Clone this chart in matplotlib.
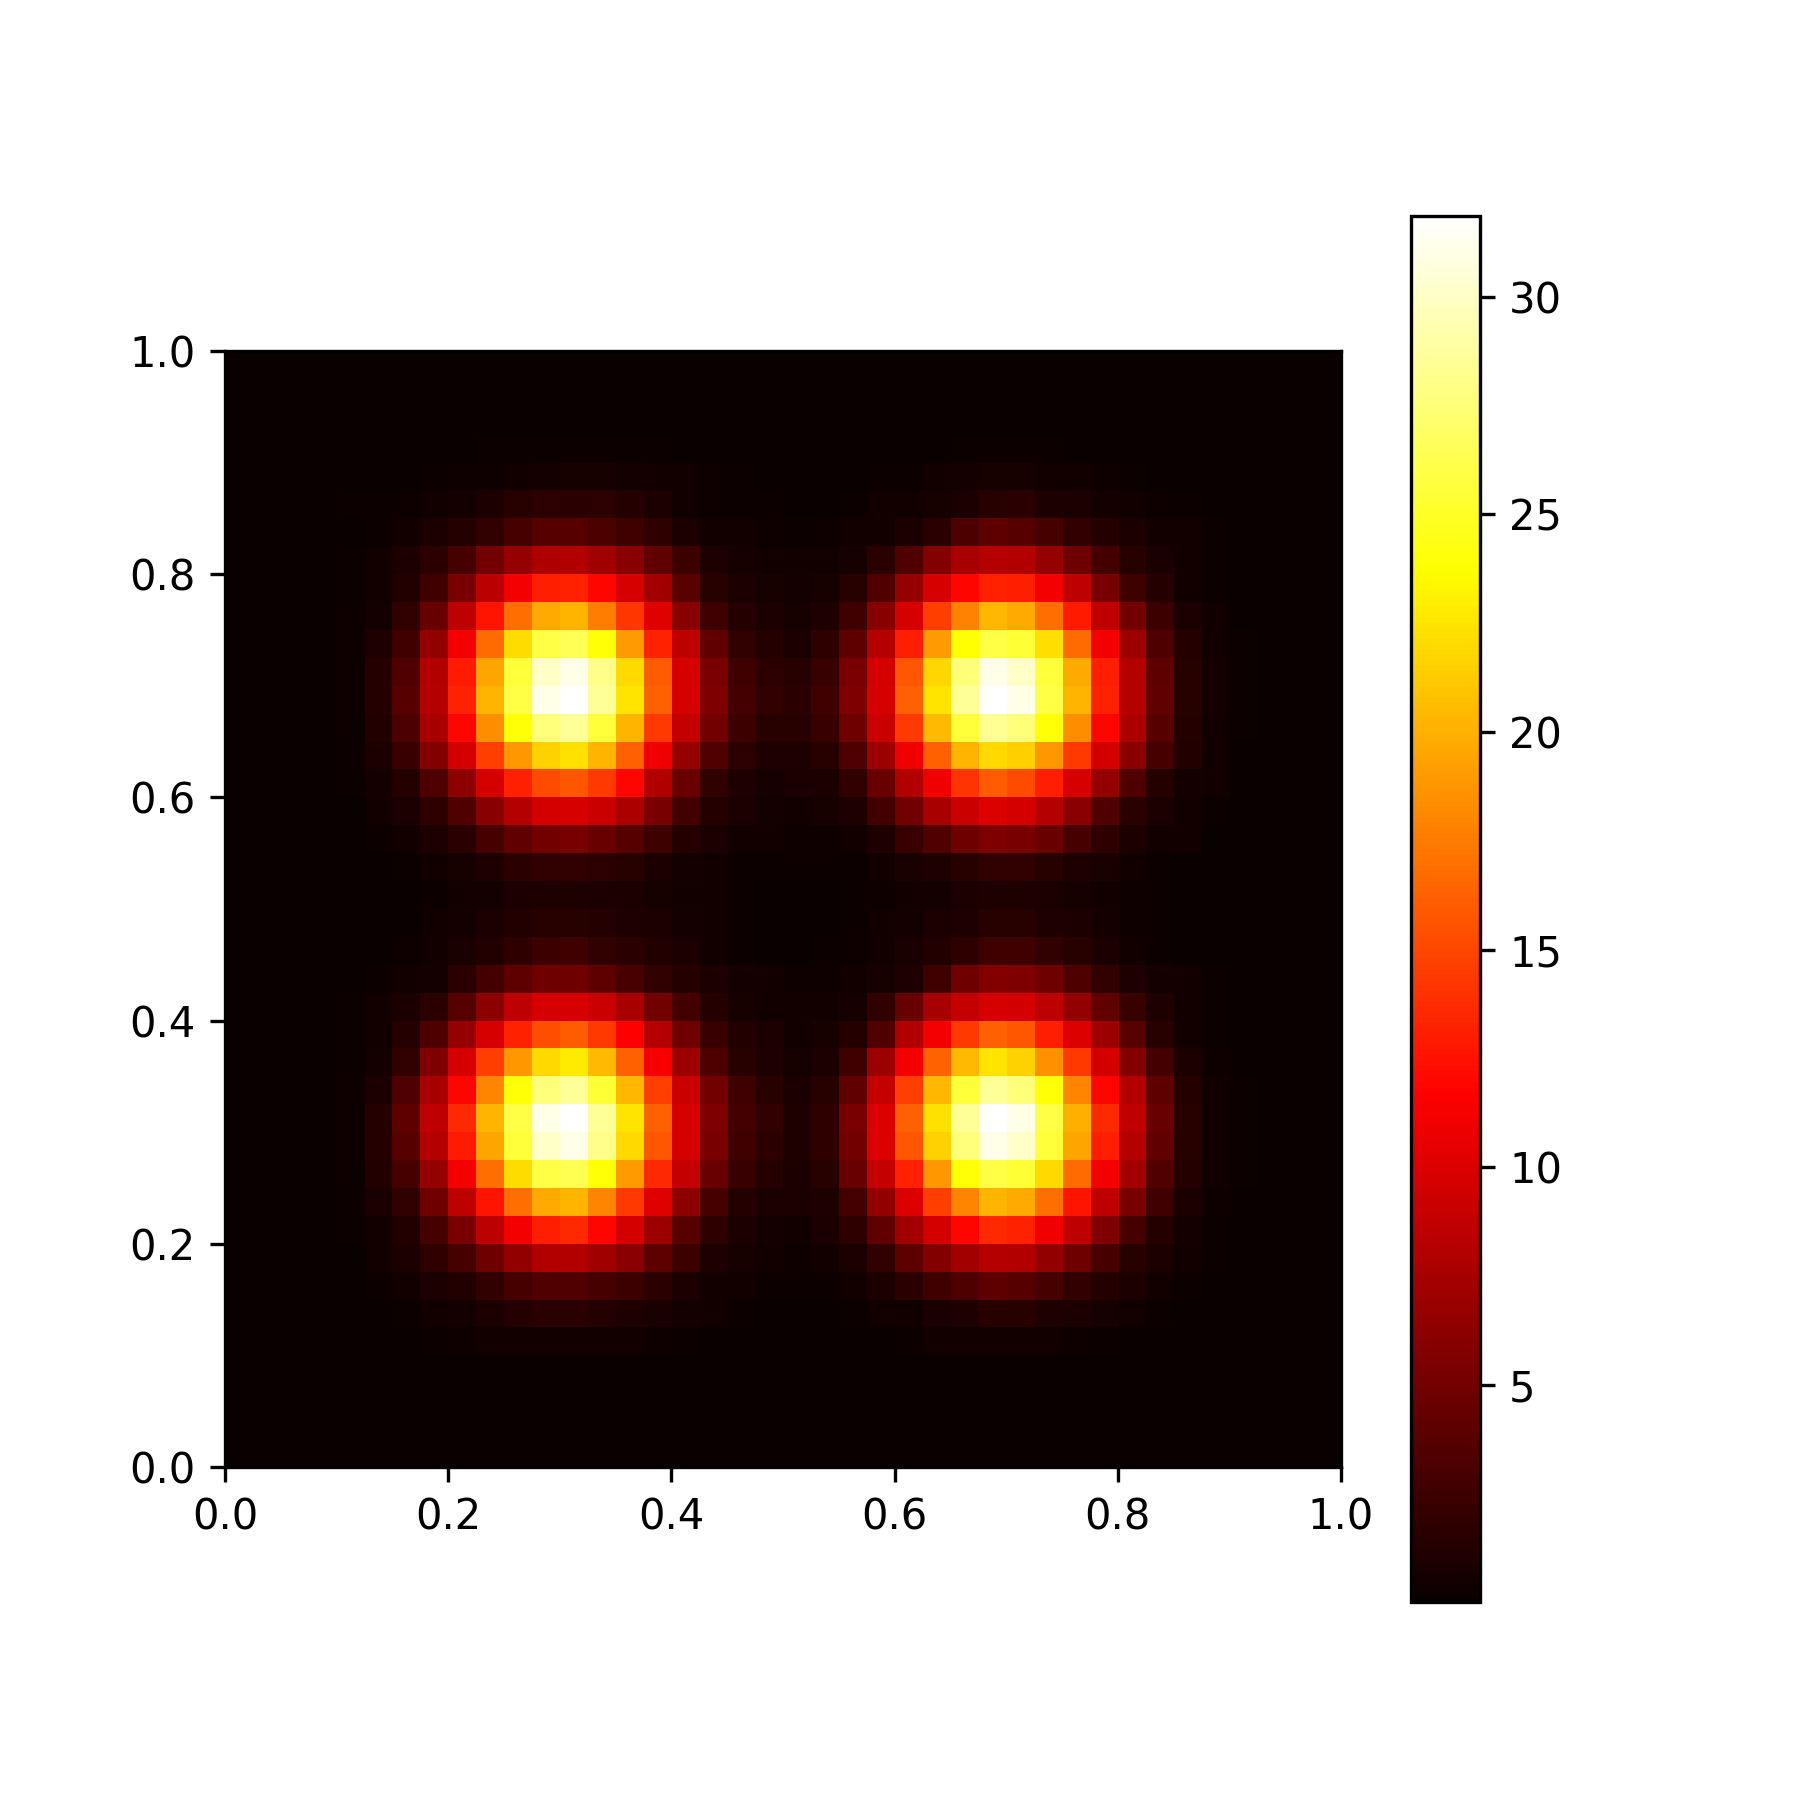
import matplotlib
matplotlib.use("Agg")
import matplotlib.pyplot as plt

cbar_ticks = [5, 10, 15, 20, 25, 30]
axis_ticks = [0.0, 0.2, 0.4, 0.6, 0.8, 1.0]
color_min = 0.02
color_max = 31.85

# density values per cell, listed from the top row of the picture to the bottom
values = [
    [.1]*40,
    [.1]*40,
    [.1]*40,
    [.1,.1,.1,.1, .1,.1,.1,.1,.1,.2,.2,.2,.2,.2,.2,.2,.1,.1,.1,.1, .1,.1,.1,.1,.1,.1,.2,.2,.2,.2,.1,.1,.1,.1,.1,.1,.1,.1,.1,.1],
    [.1,.1,.1,.1, .1,.1,.1,.2,.3,.3,.4,.6,.7,.7,.6,.5,.4,.3,.2,.1, .1,.1,.1,.2,.2,.4,.6,.7,.7,.5,.4,.3,.2,.1,.1,.1,.1,.1,.1,.1],
    [.1,.1,.1,.1, .2,.2,.3,.5,.6,1.0,1.5,1.7,1.6,1.7,1.3,1.0,.4,.3,.2,.2, .1,.1,.2,.4,.5,.7,1.0,1.5,1.6,1.0,.8,.6,.5,.3,.2,.1,.1,.1,.1,.1],
    [.1,.1,.1,.1, .1,.2,.5,.9,1.3,2.0,3.0,3.7,3.7,3.2,2.6,1.8,.9,.5,.4,.3, .2,.3,.4,.5,1.0,1.6,3.2,4.0,3.7,3.0,2.0,1.3,1.0,.5,.4,.2,.1,.1,.1,.1],
    [.1,.1,.1,.1, .2,.4,.9,1.7,3.0,5.0,6.7,7.9,8.0,7.2,6.0,4.2,2.4,1.1,.7,.5, .4,.4,.7,1.6,3.5,5.8,7.5,8.2,8.0,6.7,4.8,2.8,1.5,.8,.4,.2,.1,.1,.1,.1],
    [.1,.1,.1,.1, .2,.5,1.2,2.7,5.3,8.4,11.2,13.1,13.3,11.9,9.8,7.3,3.8,1.5,.9,.7, .6,.7,1.5,3.5,6.7,9.8,11.9,13.3,13.1,11.2,8.5,5.3,2.6,1.3,.5,.2,.1,.1,.1,.1],
    [.1,.1,.1,.1, .3,.6,2.0,4.5,8.5,12.6,16.9,19.7,20.2,17.6,14.3,10.3,6.0,2.6,1.3,.9, .7,1.1,2.6,6.0,9.8,14.6,17.9,20.3,19.7,16.9,12.9,8.7,5.0,2.4,.8,.4,.1,.1,.1,.1],
    [.1,.1,.1,.1, .3,1.1,2.7,6.5,11.2,16.7,22.1,25.9,26.5,24.0,19.0,13.3,8.5,4.2,2.0,1.3, 1.0,1.8,4.0,8.2,13.1,19.0,23.8,26.0,25.5,22.2,16.7,11.2,7.0,3.3,1.3,.5,.2,.1,.1,.1],
    [.1,.1,.1,.1, .3,1.3,3.5,8.0,12.9,19.5,25.6,30.0,31.0,28.0,22.0,16.0,9.8,5.3,2.6,1.7, 1.4,2.3,5.3,9.6,15.8,21.9,27.5,31.0,30.0,25.6,19.7,13.1,8.2,4.0,1.5,.6,.2,.1,.1,.1],
    [.1,.1,.1,.1, .3,1.3,3.7,8.2,13.3,20.2,26.0,31.0,32.0,28.6,22.5,16.2,9.8,5.5,2.8,2.0, 1.6,2.6,5.5,9.8,16.2,22.5,28.6,32.0,31.0,26.0,20.2,13.3,8.2,4.2,1.5,.6,.2,.1,.1,.1],
    [.1,.1,.1,.1, .3,1.2,3.2,7.5,11.9,18.3,24.0,27.5,28.5,25.6,20.2,14.4,8.9,5.0,2.4,1.5, 1.5,2.3,4.8,9.1,14.4,20.5,25.6,28.4,27.5,24.0,18.3,11.9,7.7,3.7,1.3,.5,.2,.1,.1,.1],
    [.1,.1,.1,.1, .2,.9,2.3,5.8,9.6,14.6,18.8,21.6,22.4,20.2,16.2,11.0,6.7,3.5,1.7,1.1, 1.1,1.5,3.3,7.0,11.0,16.2,20.2,22.0,21.5,18.8,14.4,9.6,6.0,3.0,1.2,.4,.1,.1,.1,.1],
    [.1,.1,.1,.1, .2,.6,1.3,3.3,6.3,9.6,13.3,15.2,15.7,14.4,11.9,8.0,4.5,2.0,1.1,.7, .8,1.0,2.0,4.5,8.0,11.0,14.1,16.0,15.2,13.1,9.8,6.5,3.3,1.3,.6,.4,.1,.1,.1,.1],
    [.1,.1,.1,.1, .1,.4,.8,1.8,3.5,6.0,8.2,9.6,9.8,9.1,7.7,5.3,2.8,1.3,.8,.6, .5,.7,1.1,2.8,5.0,7.5,9.1,10.0,9.6,8.2,6.0,3.5,1.6,.8,.5,.2,.1,.1,.1,.1],
    [.1,.1,.1,.1, .1,.2,.4,.9,1.6,3.0,4.2,5.0,5.3,4.5,3.7,2.6,1.3,.8,.5,.4, .3,.3,.5,1.1,2.3,3.5,4.8,5.5,5.3,4.5,3.0,1.8,1.0,.5,.4,.1,.1,.1,.1,.1],
    [.1,.1,.1,.1, .1,.1,.2,.5,.7,1.1,1.6,2.0,2.0,1.7,1.4,1.0,.6,.4,.2,.2, .2,.2,.2,.5,.8,1.1,1.5,2.0,2.0,1.5,1.1,.8,.5,.2,.1,.1,.1,.1,.1,.1],
    [.1,.1,.1,.1, .1,.1,.1,.2,.5,.6,.9,1.1,1.1,1.0,.9,.7,.5,.4,.2,.1, .1,.1,.2,.3,.5,.6,.9,1.1,1.1,.9,.7,.5,.3,.2,.1,.1,.1,.1,.1,.1],
    [.1,.1,.1,.1, .1,.1,.1,.4,.6,.8,1.2,1.5,1.5,1.3,1.1,.9,.6,.4,.2,.1, .1,.1,.2,.4,.6,.8,1.1,1.4,1.4,1.1,.9,.6,.3,.2,.1,.1,.1,.1,.1,.1],
    [.1,.1,.1,.1, .1,.1,.3,.5,.8,1.2,1.8,2.4,2.6,2.0,1.6,1.2,.9,.5,.2,.1, .1,.2,.3,.5,.8,1.2,1.8,2.6,2.6,2.0,1.4,.9,.5,.2,.1,.1,.1,.1,.1,.1],
    [.1,.1,.1,.1, .1,.2,.4,.6,1.6,2.8,4.0,4.8,4.8,4.0,3.1,2.0,1.3,1.0,.6,.5, .3,.3,.4,.7,1.1,2.6,4.8,5.8,5.5,4.8,3.3,2.0,1.1,.6,.4,.2,.1,.1,.1,.1],
    [.1,.1,.1,.1, .2,.4,.9,1.7,3.7,6.3,8.7,9.8,9.8,9.1,7.5,5.0,2.8,1.3,.7,.5, .4,.4,.7,2.0,4.5,7.5,8.9,9.8,9.6,8.5,6.5,4.2,2.3,1.1,.5,.2,.1,.1,.1,.1],
    [.1,.1,.1,.1, .2,.5,1.3,3.3,6.7,9.8,13.3,15.4,16.0,14.4,11.7,8.2,4.8,2.3,1.2,.9, .5,.7,1.3,3.5,8.0,11.2,14.4,16.2,15.7,13.1,10.0,7.0,3.7,1.5,.5,.2,.1,.1,.1,.1],
    [.1,.1,.1,.1, .2,.6,2.0,5.5,9.8,14.6,18.8,22.0,22.8,20.5,16.2,11.4,7.0,3.3,1.5,1.1, .7,1.0,2.6,7.0,11.2,16.4,20.5,22.5,21.6,18.5,14.4,9.6,5.8,2.8,.9,.3,.1,.1,.1,.1],
    [.1,.1,.1,.1, .3,1.0,3.3,7.5,11.9,18.0,24.0,27.5,28.5,25.5,20.3,14.6,9.1,5.0,2.6,1.5, .9,1.4,4.2,8.9,14.6,20.3,25.6,28.5,27.5,24.0,18.0,11.9,8.0,4.0,1.3,.4,.2,.1,.1,.1],
    [.1,.1,.1,.1, .3,1.3,4.0,8.5,13.6,20.2,26.0,31.0,32.0,28.6,22.5,16.2,9.8,5.5,2.8,2.0, 1.1,1.8,5.3,10.0,16.2,22.3,28.6,32.0,31.0,26.0,20.0,13.6,8.7,4.5,1.5,.5,.2,.1,.1,.1],
    [.1,.1,.1,.1, .3,1.3,3.7,8.2,12.9,19.5,25.6,30.0,31.0,28.0,22.0,15.7,9.8,5.3,2.6,1.7, 1.1,1.8,5.0,10.0,15.7,21.6,27.5,31.0,30.0,25.6,19.5,13.1,8.2,4.2,1.5,.5,.2,.1,.1,.1],
    [.1,.1,.1,.1, .3,1.2,3.0,6.7,11.2,16.9,22.1,26.0,26.3,24.0,19.0,13.6,8.9,4.5,2.3,1.3, 1.0,1.5,4.5,8.9,13.3,18.8,24.0,26.0,25.5,22.0,16.7,11.2,7.3,3.5,1.3,.4,.2,.1,.1,.1],
    [.1,.1,.1,.1, .2,.8,2.0,4.8,8.5,12.6,16.9,19.7,20.2,18.0,14.4,10.3,6.3,3.0,1.3,.9, .8,1.1,2.8,6.5,10.0,14.6,18.0,20.2,19.7,16.9,12.6,8.7,5.3,2.6,1.0,.3,.1,.1,.1,.1],
    [.1,.1,.1,.1, .2,.5,1.2,3.0,5.3,8.5,11.2,13.1,13.6,11.9,9.6,7.0,3.7,1.8,.9,.6, .5,.8,1.8,4.2,7.3,9.6,11.9,13.6,13.3,11.0,8.5,5.5,3.0,1.3,.6,.2,.1,.1,.1,.1],
    [.1,.1,.1,.1, .1,.4,.9,1.8,3.0,4.8,6.5,8.0,8.0,7.2,6.0,4.0,2.4,1.1,.7,.4, .3,.5,.9,2.0,4.0,5.8,7.3,8.2,8.0,6.5,4.8,3.0,1.5,1.0,.5,.2,.1,.1,.1,.1],
    [.1,.1,.1,.1, .1,.2,.5,.8,1.2,2.0,3.0,3.5,3.5,3.0,2.4,1.6,.9,.5,.4,.2, .2,.2,.5,1.0,1.6,2.6,3.3,4.0,3.7,3.0,2.0,1.3,.9,.5,.2,.1,.1,.1,.1,.1],
    [.1,.1,.1,.1, .1,.1,.2,.4,.6,.9,1.3,1.6,1.6,1.3,1.1,.8,.6,.4,.2,.1, .1,.1,.2,.4,.5,.8,1.1,1.4,1.4,1.1,.9,.7,.5,.2,.1,.1,.1,.1,.1,.1],
    [.1,.1,.1,.1, .1,.1,.1,.2,.3,.4,.5,.5,.5,.5,.4,.3,.2,.1,.1,.1, .1,.1,.1,.1,.2,.4,.5,.5,.5,.4,.3,.2,.1,.1,.1,.1,.1,.1,.1,.1],
    [.1]*40,
    [.1]*40,
    [.1]*40,
    [.1]*40,
]

fig, ax = plt.subplots(figsize=(6, 6), dpi=300)
im = ax.imshow(values, cmap="hot", vmin=color_min, vmax=color_max,
               extent=[0, 1, 0, 1], origin="upper", interpolation="nearest")
ax.set_xticks(axis_ticks)
ax.set_yticks(axis_ticks)
cbar = fig.colorbar(im, ax=ax)
cbar.set_ticks(cbar_ticks)
fig.savefig("out.png", dpi=300)
